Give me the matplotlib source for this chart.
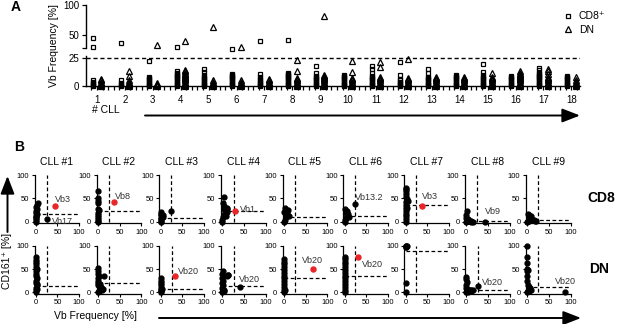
import numpy as np
import matplotlib
matplotlib.use('Agg')
import matplotlib.pyplot as plt
from matplotlib.ticker import MultipleLocator

plt.rcParams['font.family'] = ['Liberation Sans', 'DejaVu Sans']

# ---------------- panel A data (Vb frequency per family, %) ----------------
cll_ids = [1, 2, 3, 4, 5, 6, 7, 8, 9, 10, 11, 12, 13, 14, 15, 16, 17, 18]
cd8_vb = [
    [0, 1, 2, 3, 4, 5, 30, 45],
    [0, 1, 2, 3, 5, 37],
    [0, 1, 2, 3, 4, 5, 6, 7, 8, 22],
    [0, 1, 2, 3, 4, 5, 6, 7, 8, 9, 10, 11, 12, 13, 30],
    [0, 1, 2, 3, 4, 5, 6, 7, 8, 10, 12.5, 15],
    [0, 1, 2, 3, 4, 5, 6, 7, 8, 9, 10, 11, 28],
    [0, 1, 2, 3, 4, 5, 6, 8, 10.5, 40],
    [0, 1, 2, 3, 4, 5, 6, 7, 8, 9, 10, 11, 12, 42],
    [0, 1, 2, 3, 4, 5, 6, 7, 8, 9, 12, 18],
    [0, 1, 2, 3, 4, 5, 6, 7, 8, 9, 10],
    [0, 1, 2, 3, 4, 5, 6, 7, 8, 9, 11.5, 15, 18],
    [0, 1, 2, 3, 4, 5, 6, 10, 21.5],
    [0, 1, 2, 3, 4, 5, 6, 7, 8, 12, 15],
    [0, 1, 2, 3, 4, 5, 6, 7, 8, 9, 10],
    [0, 1, 2, 3, 4, 5, 6, 7, 8, 10, 12.5, 19.5],
    [0, 1, 2, 3, 4, 5, 6, 7, 8, 9],
    [0, 1, 2, 3, 4, 5, 6, 7, 8, 9, 10, 11, 12, 14, 16],
    [0, 1, 2, 3, 4, 5, 6, 7, 8, 9],
]
dn_vb = [
    [0, 1, 2, 3, 4, 5, 6],
    [0, 1, 2, 3, 4, 5, 9, 13],
    [0, 1, 2, 3, 33],
    [0, 1, 2, 3, 4, 5, 6, 7, 8, 9, 10, 11, 12, 13, 14, 40],
    [0, 1, 2, 3, 4, 5, 63],
    [0, 1, 2, 3, 4, 5, 30.5],
    [0, 1, 2, 3, 4, 5, 6],
    [0, 1, 2, 3, 4, 5, 6, 7, 13.5, 23],
    [0, 1, 2, 3, 4, 5, 6, 7, 8, 9, 10, 82],
    [0, 1, 2, 3, 4, 5, 6, 7, 12.5, 22.5],
    [0, 1, 2, 3, 4, 5, 6, 7, 8, 17, 21],
    [0, 1, 2, 3, 4, 5, 6, 7, 24],
    [0, 1, 2, 3, 4, 5, 6, 7, 8],
    [0, 1, 2, 3, 4, 5, 6, 7, 8],
    [0, 1, 2, 3, 4, 5, 6, 7, 8, 11.5],
    [0, 1, 2, 3, 4, 5, 6, 7, 8, 9, 10, 11, 12, 13],
    [0, 1, 2, 3, 4, 5, 6, 7, 8, 11, 13, 15],
    [0, 1, 2, 3, 4, 5, 8],
]

# ---------------- panel B data (x = Vb frequency, y = CD161+ %) ----------------
b_titles = ['CLL #1', 'CLL #2', 'CLL #3', 'CLL #4', 'CLL #5',
            'CLL #6', 'CLL #7', 'CLL #8', 'CLL #9']

cd8_x = [
    [0, 0, 1, 0, 2, 0, 1, 3, 0, 2, 4, 1, 27],
    [0, 0, 1, 0, 1, 0, 2, 0, 1, 0, 1, 0],
    [0, 0, 1, 2, 3, 1, 0, 2, 5, 6, 25],
    [0, 0, 2, 4, 6, 8, 10, 5, 3, 7, 9, 11, 12, 1, 5],
    [0, 2, 4, 6, 8, 10, 3, 12, 5, 1],
    [0, 2, 4, 6, 8, 3, 5, 1, 10, 25],
    [0, 0, 0, 1, 2, 0, 1, 2, 3, 1, 2, 0, 1, 2, 5, 4],
    [0, 2, 4, 6, 8, 10, 12, 15, 0, 0, 1, 3, 44],
    [0, 2, 4, 6, 8, 3, 1, 10, 12, 15, 18, 20, 5],
]
cd8_y = [
    [0, 4, 8, 12, 16, 20, 24, 28, 32, 36, 40, 10, 6],
    [0, 3, 6, 10, 15, 20, 25, 28, 40, 45, 50, 66],
    [0, 3, 6, 9, 12, 15, 18, 21, 10, 14, 23],
    [0, 5, 10, 15, 20, 25, 30, 35, 28, 18, 12, 22, 27, 40, 54],
    [0, 5, 10, 15, 20, 25, 29, 12, 18, 22],
    [0, 4, 8, 12, 16, 20, 24, 28, 10, 38],
    [0, 6, 12, 18, 24, 30, 36, 42, 48, 54, 60, 66, 70, 73, 45, 30],
    [0, 2, 4, 3, 2, 1, 2, 1, 8, 14, 23, 6, 1],
    [0, 3, 6, 9, 12, 15, 17, 5, 7, 4, 3, 2, 2],
]
cd8_vline = [25, 25, 25, 26, 25, 25, 25, 25, 25]
cd8_hline = [17, 23, 9, 23, 11, 13, 36, 3, 4]
cd8_red = {0: (45, 33), 1: (36, 42), 3: (30, 24), 6: (39, 35)}
cd8_labels = {0: [('Vb3', 45, 48), ('Vb17', 37, 2)], 1: [('Vb8', 40, 55)],
              3: [('Vb1', 40, 27)], 5: [('Vb13.2', 24, 52)],
              6: [('Vb3', 38, 54)], 7: [('Vb9', 44, 23)]}

dn_x = [
    [0, 0, 1, 2, 0, 1, 2, 0, 1, 0, 2, 1, 0, 1, 0, 1, 3, 3],
    [0, 2, 4, 6, 8, 10, 12, 1, 0, 1, 0, 2, 0, 1, 0, 15, 5],
    [0, 0, 1, 0, 1, 0, 1, 2, 3],
    [0, 1, 0, 2, 0, 1, 0, 1, 0, 2, 12, 13, 14, 3, 5, 41],
    [0, 0, 1, 0, 1, 0, 1, 0, 1, 0, 1, 0, 1, 2],
    [0, 0, 1, 0, 1, 0, 1, 0, 1, 0, 1, 0, 1, 0],
    [0, 0, 0, 1, 2, 3, 1],
    [0, 2, 4, 6, 8, 10, 12, 15, 0, 0, 1, 0, 0, 3, 27],
    [0, 2, 4, 6, 8, 3, 1, 0, 0, 0, 1, 0, 0, 0, 0, 5, 86],
]
dn_y = [
    [0, 5, 10, 15, 20, 25, 30, 35, 40, 45, 50, 55, 60, 65, 70, 75, 8, 18],
    [0, 3, 6, 9, 12, 5, 8, 15, 20, 25, 30, 35, 40, 45, 53, 35, 18],
    [0, 5, 10, 15, 20, 25, 30, 3, 8],
    [0, 5, 10, 15, 20, 25, 30, 35, 40, 45, 35, 37, 38, 5, 3, 11],
    [0, 6, 12, 18, 24, 30, 36, 42, 48, 54, 60, 66, 72, 5],
    [0, 6, 12, 18, 24, 30, 36, 42, 48, 54, 60, 66, 72, 75],
    [0, 20, 97, 98, 99, 100, 100],
    [0, 2, 4, 6, 4, 3, 5, 6, 10, 16, 22, 28, 32, 1, 14],
    [0, 3, 6, 9, 5, 12, 15, 25, 35, 45, 48, 50, 63, 75, 99, 2, 1],
]
dn_vline = [26, 25, 26, 26, 25, 25, 25, 27, 25]
dn_hline = [14, 19, 7, 14, 30, 35, 89, 5, 11]
dn_red = {2: (34, 34), 4: (67, 51), 5: (30, 76)}
dn_labels = {2: [('Vb20', 41, 44)], 3: [('Vb20', 38, 28)], 4: [('Vb20', 41, 68)],
             5: [('Vb20', 40, 59)], 7: [('Vb20', 36, 21)], 8: [('Vb20', 65, 23)]}

RED = '#e8262a'
W, H = 620, 324


def px_axes(fig, left, top, width, height):
    return fig.add_axes([left / W, 1 - (top + height) / H, width / W, height / H])


fig = plt.figure(figsize=(6.2, 3.24), dpi=100)

# ---------------- panel A ----------------
axa = px_axes(fig, 86, 5, 494, 81)
yb = [0, 25, 28.3, 50, 100]
yp = [0, 28, 38, 51, 81]
axa.set_yscale('function', functions=(lambda v: np.interp(v, yb, yp),
                                      lambda u: np.interp(u, yp, yb)))
for i, x in enumerate(cll_ids):
    c = cd8_vb[i]
    d = dn_vb[i]
    axa.plot([x - 0.15] * len(c), c, ls='none', marker='s', ms=3.4, mfc='none',
             mec='black', mew=0.9, clip_on=False, zorder=3)
    axa.plot([x + 0.15] * len(d), d, ls='none', marker='^', ms=4.2, mfc='none',
             mec='black', mew=0.9, clip_on=False, zorder=3)
axa.axhline(25, color='black', lw=1.0, ls=(0, (3, 2)), zorder=1)
axa.set_xlim(0.606, 18.31)
axa.set_ylim(0, 100)
axa.set_xticks(cll_ids)
axa.xaxis.set_minor_locator(MultipleLocator(0.2))
axa.set_yticks([0, 25, 28.3, 50, 100])
axa.set_yticklabels(['0', '25', '', '50', '100'])
axa.tick_params(axis='both', labelsize=7, length=3, width=0.9, pad=2)
axa.tick_params(axis='x', which='minor', length=3, width=0.9)
axa.tick_params(axis='x', pad=3.5)
for s in ['top', 'right', 'left']:
    axa.spines[s].set_visible(False)
axa.spines['bottom'].set_linewidth(1.0)
tr = axa.get_yaxis_transform()
axa.plot([0, 0], [0, 25.6], transform=tr, color='black', lw=1.0, clip_on=False)
axa.plot([0, 0], [28.3, 100], transform=tr, color='black', lw=1.0, clip_on=False)
axa.set_ylabel('Vb Frequency [%]', fontsize=7.5, labelpad=3)

axa.legend(handles=[
    plt.Line2D([], [], ls='none', marker='s', ms=3.4, mfc='white', mec='black', mew=0.9),
    plt.Line2D([], [], ls='none', marker='^', ms=4.2, mfc='white', mec='black', mew=0.9)],
    labels=['CD8⁺', 'DN'], loc='upper left', bbox_to_anchor=(558 / W, 1 - 6 / H),
    bbox_transform=fig.transFigure, frameon=False, fontsize=7.5,
    handlelength=1.0, handletextpad=0.5, labelspacing=0.35, borderpad=0)

# ---------------- panel B ----------------
col_left = [34.5, 96.7, 159.3, 221, 282.7, 343.3, 404.3, 465, 526]
rows = [
    (175, 48.4, cd8_x, cd8_y, cd8_vline, cd8_hline, cd8_red, cd8_labels),
    (245.7, 48.0, dn_x, dn_y, dn_vline, dn_hline, dn_red, dn_labels),
]
for r, (top, hgt, xs, ys, vl, hl, reds, labs) in enumerate(rows):
    for k in range(9):
        ax = px_axes(fig, col_left[k], top, 44.6, hgt)
        ax.axvline(vl[k], ymin=3 / 103, ymax=1, color='black', lw=0.9, ls=(0, (3, 2)))
        ax.plot([0, 100], [hl[k], hl[k]], color='black', lw=0.9, ls=(0, (3, 2)))
        ax.plot(xs[k], ys[k], ls='none', marker='o', ms=3.5, color='black',
                clip_on=False, zorder=3)
        if k in reds:
            ax.plot([reds[k][0]], [reds[k][1]], ls='none', marker='o', ms=3.6,
                    color=RED, zorder=4)
        for txt, tx, ty in labs.get(k, []):
            ax.text(tx, ty, txt, fontsize=6.5, color='#333333', va='center', ha='left')
        ax.set_xlim(-3, 100)
        ax.set_ylim(-3, 100)
        ax.set_xticks([0, 50, 100])
        ax.set_yticks([0, 50, 100])
        ax.tick_params(labelsize=5.5, length=2.5, width=0.8, pad=1.5)
        ax.spines['top'].set_visible(False)
        ax.spines['right'].set_visible(False)
        for s in ['left', 'bottom']:
            ax.spines[s].set_linewidth(0.9)
        if r == 0:
            ax.set_title(b_titles[k], fontsize=7.5, pad=7)

# ---------------- overlay: arrows and labels ----------------
ov = fig.add_axes([0, 0, 1, 1], facecolor='none')
ov.set_xlim(0, W)
ov.set_ylim(H, 0)
ov.axis('off')
arr = dict(arrowstyle='-|>,head_length=0.9,head_width=0.35', lw=1.4, color='black',
           mutation_scale=12, shrinkA=0, shrinkB=0)
ov.annotate('', xy=(580, 115.5), xytext=(145, 115.5), arrowprops=arr)
ov.annotate('', xy=(581, 318), xytext=(159, 318), arrowprops=arr)
ov.annotate('', xy=(7.5, 176), xytext=(7.5, 232), arrowprops=arr)

ov.text(106, 110, '# CLL', fontsize=7.5, ha='center', va='center')
ov.text(96, 316, 'Vb Frequency [%]', fontsize=7.5, ha='center', va='center')
ov.text(7.5, 261, 'CD161⁺ [%]', fontsize=7.5, ha='center', va='center', rotation=90)
ov.text(601, 198, 'CD8', fontsize=10, fontweight='bold', ha='center', va='center')
ov.text(599, 269, 'DN', fontsize=10, fontweight='bold', ha='center', va='center')
ov.text(16, 7, 'A', fontsize=10, fontweight='bold', ha='center', va='center')
ov.text(19, 147, 'B', fontsize=10, fontweight='bold', ha='center', va='center')

fig.savefig('out.png', dpi=100)
